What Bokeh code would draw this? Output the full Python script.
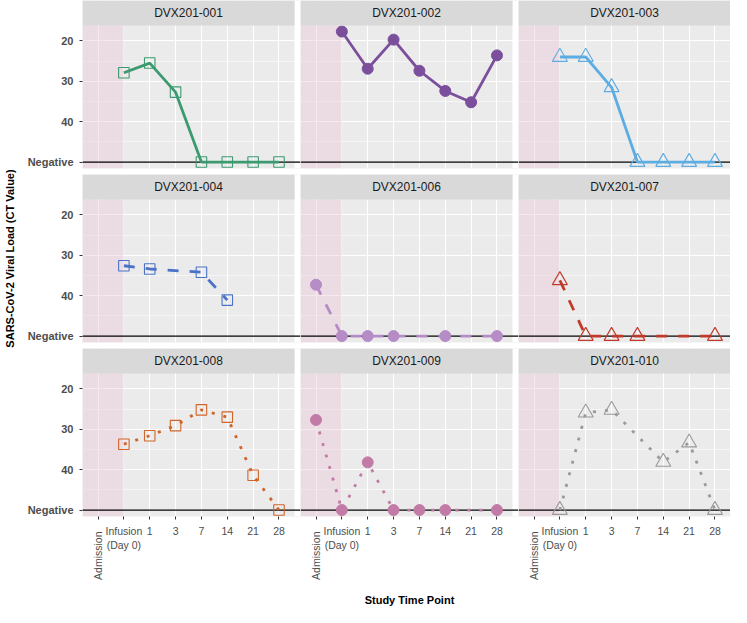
import math
from bokeh.plotting import figure
from bokeh.layouts import gridplot, row
from bokeh.models import Range1d, FixedTicker, BoxAnnotation, Span, Label, LinearAxis
from bokeh.embed import file_html
from bokeh.resources import INLINE

# ---------------- data ----------------
NEG = 50.0  # plotting value used for "Negative"
time_points = ["Admission", "Infusion\n(Day 0)", "1", "3", "7", "14", "21", "28"]
y_ticks = [20, 30, 40, NEG]
y_minor = [25, 35, 45]
y_tick_labels = ["20", "30", "40", "Negative"]
y_title = "SARS-CoV-2 Viral Load (CT Value)"
x_title = "Study Time Point"

subjects = ["DVX201-001", "DVX201-002", "DVX201-003",
            "DVX201-004", "DVX201-006", "DVX201-007",
            "DVX201-008", "DVX201-009", "DVX201-010"]

ct_001 = [None, 27.9, 25.5, 32.7, NEG, NEG, NEG, NEG]
ct_002 = [None, 17.7, 26.9, 19.7, 27.4, 32.4, 35.2, 23.6]
ct_003 = [None, 24.0, 24.0, 31.5, NEG, NEG, NEG, NEG]
ct_004 = [None, 32.6, 33.4, None, 34.2, 41.1, None, None]
ct_006 = [37.3, NEG, NEG, NEG, None, NEG, None, NEG]
ct_007 = [None, 36.2, NEG, NEG, NEG, None, None, NEG]
ct_008 = [None, 33.7, 31.6, 29.1, 25.2, 27.0, 41.4, NEG]
ct_009 = [27.7, NEG, 38.2, NEG, NEG, NEG, None, NEG]
ct_010 = [None, NEG, 25.9, 25.2, None, 38.1, 33.3, NEG]
series = [ct_001, ct_002, ct_003, ct_004, ct_006, ct_007, ct_008, ct_009, ct_010]

# ---------------- styles ----------------
colors = ["#3C9A6F", "#7B4F9B", "#5DADE2",
          "#4B72C6", "#B58CC6", "#C0392B",
          "#D0652A", "#C27BA6", "#9A9A9A"]
markers = ["square", "circle", "triangle"] * 3
filled = [False, True, False] * 3
dashes = ["solid"] * 3 + ["11 11"] * 3 + ["3 9"] * 3
marker_sizes = {"square": 10.5, "circle": 11, "triangle": 15}

FONT = "Liberation Sans"
FW, PH, SH = 212, 143, 25          # panel width, panel height, strip height
FH = PH + SH
Y_LO, Y_HI = 51.6, 16.2             # reversed y axis (bottom, top)
Y_END = Y_HI - SH * (Y_LO - Y_HI) / PH
X_LO, X_HI = 0.4, 8.6
GAP = 6
GAP_X = GAP * (X_HI - X_LO) / FW    # gap between columns, in x units
LEFT_B, BOTTOM_B = 64, 88
TITLE_W = 18

x_idx = list(range(1, len(time_points) + 1))
adm_overrides = {i: (lab if lab == "Admission" else "") for i, lab in zip(x_idx, time_points)}
x_overrides = {i: ("" if lab == "Admission" else lab) for i, lab in zip(x_idx, time_points)}
y_overrides = {t: lab for t, lab in zip(y_ticks, y_tick_labels)}


def style_axis(ax):
    ax.axis_line_color = None
    ax.major_tick_line_color = "#333333"
    ax.major_tick_in = 0
    ax.major_tick_out = 3
    ax.minor_tick_line_color = None
    ax.major_label_text_font = FONT
    ax.major_label_text_color = "#4D4D4D"
    ax.axis_label_text_font = FONT
    ax.axis_label_text_font_style = "bold"
    ax.axis_label_text_font_size = "11px"
    ax.axis_label_text_color = "black"


figs = []
for k, (name, vals) in enumerate(zip(subjects, series)):
    r, c = divmod(k, 3)
    has_gap = c < 2
    x_end = X_HI + GAP_X if has_gap else X_HI
    p = figure(frame_width=FW + (GAP if has_gap else 0), frame_height=FH,
               x_range=Range1d(X_LO, x_end), y_range=Range1d(Y_LO, Y_END),
               output_backend="svg", toolbar_location=None,
               background_fill_color="#EBEBEB", border_fill_color="white",
               outline_line_color=None,
               min_border_left=LEFT_B if c == 0 else 0,
               min_border_right=0,
               min_border_top=0,
               min_border_bottom=BOTTOM_B if r == 2 else GAP)

    xt = FixedTicker(ticks=x_idx)
    yt = FixedTicker(ticks=y_ticks, minor_ticks=y_minor)
    p.xaxis.ticker = xt
    p.yaxis.ticker = yt
    p.xgrid.ticker = xt
    p.ygrid.ticker = yt
    for g in (p.xgrid, p.ygrid):
        g.grid_line_color = "white"
        g.grid_line_width = 1.1
    p.ygrid.minor_grid_line_color = "white"
    p.ygrid.minor_grid_line_width = 0.55

    for ax in (p.xaxis, p.yaxis):
        style_axis(ax)

    p.yaxis.major_label_overrides = y_overrides
    p.yaxis.major_label_text_font_size = "11px"
    p.yaxis.major_label_text_font_style = "bold"
    p.yaxis.major_label_standoff = 5

    if c != 0:
        p.yaxis.visible = False
    if r != 2:
        p.xaxis.visible = False
    else:
        # axis nearest the panel: the rotated "Admission" label
        p.xaxis.major_label_overrides = adm_overrides
        p.xaxis.major_label_orientation = math.pi / 2
        p.xaxis.major_label_text_font_size = "10.5px"
        p.xaxis.major_label_standoff = 12
        # second axis: horizontal labels pulled back up under the ticks
        ax2 = LinearAxis(ticker=xt)
        style_axis(ax2)
        ax2.major_tick_line_color = None
        ax2.major_tick_out = 0
        ax2.major_label_overrides = x_overrides
        ax2.major_label_text_font_size = "10.5px"
        ax2.major_label_standoff = -58
        if c == 1:
            ax2.axis_label = x_title
            ax2.axis_label_standoff = 40
        p.add_layout(ax2, "below")

    # pre-infusion shading
    p.add_layout(BoxAnnotation(right=2, top=Y_HI, fill_color="#EBC5D7", fill_alpha=0.4,
                               line_color=None, level="underlay"))
    # white gutter between columns
    if has_gap:
        p.add_layout(BoxAnnotation(left=X_HI, fill_color="white", fill_alpha=1.0,
                                   line_color=None, level="underlay"))
    # negative reference line
    p.add_layout(Span(location=NEG, dimension="width", line_color="black",
                      line_width=1.2, level="underlay"))

    xs = [x for x, v in zip(x_idx, vals) if v is not None]
    ys = [v for v in vals if v is not None]
    p.line(xs, ys, line_color=colors[k], line_width=2.8,
           line_dash=dashes[k], line_cap="butt")
    m = markers[k]
    if filled[k]:
        p.scatter(xs, ys, marker=m, size=marker_sizes[m], fill_color=colors[k],
                  line_color=colors[k], line_width=1)
    else:
        p.scatter(xs, ys, marker=m, size=marker_sizes[m], fill_color=None,
                  line_color=colors[k], line_width=1.1)

    # facet strip
    p.add_layout(BoxAnnotation(bottom=Y_HI, right=X_HI, fill_color="#D9D9D9",
                               fill_alpha=1.0, line_color=None))
    p.add_layout(Label(x=(X_LO + X_HI) / 2, y=(Y_HI + Y_END) / 2, text=name,
                       text_align="center", text_baseline="middle",
                       text_font=FONT, text_font_size="12px", text_color="#1A1A1A"))
    figs.append(p)

grid = gridplot([figs[0:3], figs[3:6], figs[6:9]], toolbar_location=None)

# y-axis title spanning all panel rows
panels_h = 3 * FH + 2 * GAP
total_h = panels_h + BOTTOM_B
yfig = figure(width=TITLE_W, height=total_h, x_range=Range1d(0, 1),
              y_range=Range1d(total_h, 0), output_backend="svg",
              toolbar_location=None, x_axis_location=None, y_axis_location=None,
              outline_line_color=None, min_border=0, background_fill_color="white")
yfig.xgrid.visible = False
yfig.ygrid.visible = False
yfig.add_layout(Label(x=0.5, y=panels_h / 2, text=y_title, angle=math.pi / 2,
                      text_align="center", text_baseline="middle", text_font=FONT,
                      text_font_style="bold", text_font_size="11px", text_color="black"))

layout = row(yfig, grid)
open("out.html", "w").write(file_html(layout, INLINE))
